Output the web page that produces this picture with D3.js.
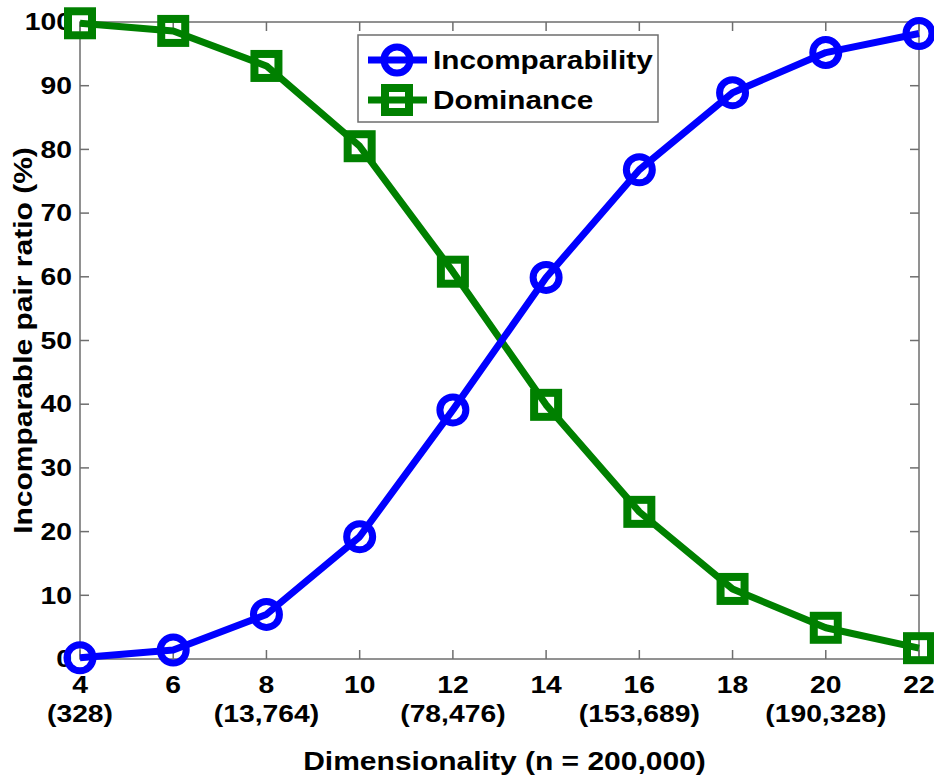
<!DOCTYPE html>
<html>
<head>
<meta charset="utf-8">
<script src="https://cdn.jsdelivr.net/npm/d3@7"></script>
<style>
  body { margin: 0; background: #fff; }
  text { font-family: "Liberation Sans", Arial, sans-serif; font-weight: bold; fill: #000; }
</style>
</head>
<body>
<div id="chart"></div>
<script>
const dims = [4, 6, 8, 10, 12, 14, 16, 18, 20, 22];
const incomparability = [0.2, 1.4, 7.0, 19.2, 39.1, 59.9, 76.8, 88.9, 95.2, 98.2];
const dominance = [99.8, 98.6, 93.1, 80.5, 60.8, 39.9, 23.1, 11.0, 4.9, 1.7];
const yTicks = [0, 10, 20, 30, 40, 50, 60, 70, 80, 90, 100];
const subLabels = { 4: "(328)", 8: "(13,764)", 12: "(78,476)", 16: "(153,689)", 20: "(190,328)" };

const W = 934, H = 777;
const plotL = 80, plotR = 919, plotT = 22, plotB = 659;
const sx = 1.23; // the original's type is wider than Liberation Sans

const svg = d3.select("#chart").append("svg")
    .attr("width", W)
    .attr("height", H);

const x = d3.scaleLinear().domain([4, 22]).range([plotL, plotR]);
const y = d3.scaleLinear().domain([0, 100]).range([plotB, plotT]);

// box + inward ticks
const axisColor = "#6e6e6e";
svg.append("rect")
    .attr("x", plotL).attr("y", plotT)
    .attr("width", plotR - plotL).attr("height", plotB - plotT)
    .attr("fill", "none").attr("stroke", axisColor).attr("stroke-width", 1.5);

const tl = 9;
svg.append("g").selectAll("line")
  .data(dims).join("line")
    .attr("x1", d => x(d)).attr("x2", d => x(d))
    .attr("y1", plotB).attr("y2", plotB - tl)
    .attr("stroke", axisColor).attr("stroke-width", 1.5);
svg.append("g").selectAll("line")
  .data(dims).join("line")
    .attr("x1", d => x(d)).attr("x2", d => x(d))
    .attr("y1", plotT).attr("y2", plotT + tl)
    .attr("stroke", axisColor).attr("stroke-width", 1.5);
svg.append("g").selectAll("line")
  .data(yTicks).join("line")
    .attr("x1", plotL).attr("x2", plotL + tl)
    .attr("y1", d => y(d)).attr("y2", d => y(d))
    .attr("stroke", axisColor).attr("stroke-width", 1.5);
svg.append("g").selectAll("line")
  .data(yTicks).join("line")
    .attr("x1", plotR).attr("x2", plotR - tl)
    .attr("y1", d => y(d)).attr("y2", d => y(d))
    .attr("stroke", axisColor).attr("stroke-width", 1.5);

// tick labels
svg.append("g").selectAll("text")
  .data(yTicks).join("text")
    .attr("transform", d => `translate(${plotL - 8},${y(d)}) scale(${sx},1)`)
    .attr("dy", "0.36em")
    .attr("text-anchor", "end")
    .attr("font-size", 23)
    .text(d => d);

svg.append("g").selectAll("text")
  .data(dims).join("text")
    .attr("transform", d => `translate(${x(d)},693) scale(${sx},1)`)
    .attr("text-anchor", "middle")
    .attr("font-size", 23)
    .text(d => d);

svg.append("g").selectAll("text")
  .data(dims.filter(d => subLabels[d])).join("text")
    .attr("transform", d => `translate(${x(d)},722) scale(${sx},1)`)
    .attr("text-anchor", "middle")
    .attr("font-size", 23)
    .text(d => subLabels[d]);

// axis titles
svg.append("text")
    .attr("transform", `translate(${(plotL + plotR) / 2 + 5},770) scale(1.2,1)`)
    .attr("text-anchor", "middle")
    .attr("font-size", 25)
    .text("Dimensionality (n = 200,000)");

svg.append("text")
    .attr("transform", `translate(32, ${(plotT + plotB) / 2}) rotate(-90) scale(1.2,1)`)
    .attr("text-anchor", "middle")
    .attr("font-size", 25)
    .text("Incomparable pair ratio (%)");

// series
const line = d3.line().x(d => x(d[0])).y(d => y(d[1]));
const blue = "#0000ff", green = "#008000";
const incData = dims.map((d, i) => [d, incomparability[i]]);
const domData = dims.map((d, i) => [d, dominance[i]]);

svg.append("path").datum(domData)
    .attr("d", line).attr("fill", "none")
    .attr("stroke", green).attr("stroke-width", 7).attr("stroke-linejoin", "round");
svg.append("g").selectAll("rect")
  .data(domData).join("rect")
    .attr("x", d => x(d[0]) - 12).attr("y", d => y(d[1]) - 12)
    .attr("width", 24).attr("height", 24)
    .attr("fill", "none").attr("stroke", green).attr("stroke-width", 8);

svg.append("path").datum(incData)
    .attr("d", line).attr("fill", "none")
    .attr("stroke", blue).attr("stroke-width", 7).attr("stroke-linejoin", "round");
svg.append("g").selectAll("circle")
  .data(incData).join("circle")
    .attr("cx", d => x(d[0])).attr("cy", d => y(d[1]))
    .attr("r", 13)
    .attr("fill", "none").attr("stroke", blue).attr("stroke-width", 7);

// legend
const lg = svg.append("g");
lg.append("rect")
    .attr("x", 358).attr("y", 35).attr("width", 300).attr("height", 87)
    .attr("fill", "#fff").attr("stroke", axisColor).attr("stroke-width", 1.5);
const legendItems = [
  { name: "Incomparability", color: blue, shape: "circle", cy: 60 },
  { name: "Dominance", color: green, shape: "square", cy: 100 }
];
legendItems.forEach(it => {
  lg.append("line")
      .attr("x1", 368).attr("x2", 427).attr("y1", it.cy).attr("y2", it.cy)
      .attr("stroke", it.color).attr("stroke-width", 7);
  if (it.shape === "circle") {
    lg.append("circle").attr("cx", 397).attr("cy", it.cy).attr("r", 13)
        .attr("fill", "none").attr("stroke", it.color).attr("stroke-width", 7);
  } else {
    lg.append("rect").attr("x", 385).attr("y", it.cy - 12).attr("width", 24).attr("height", 24)
        .attr("fill", "none").attr("stroke", it.color).attr("stroke-width", 8);
  }
  lg.append("text")
      .attr("transform", `translate(433,${it.cy}) scale(1.19,1)`)
      .attr("dy", "0.36em")
      .attr("font-size", 25)
      .text(it.name);
});
</script>
</body>
</html>
